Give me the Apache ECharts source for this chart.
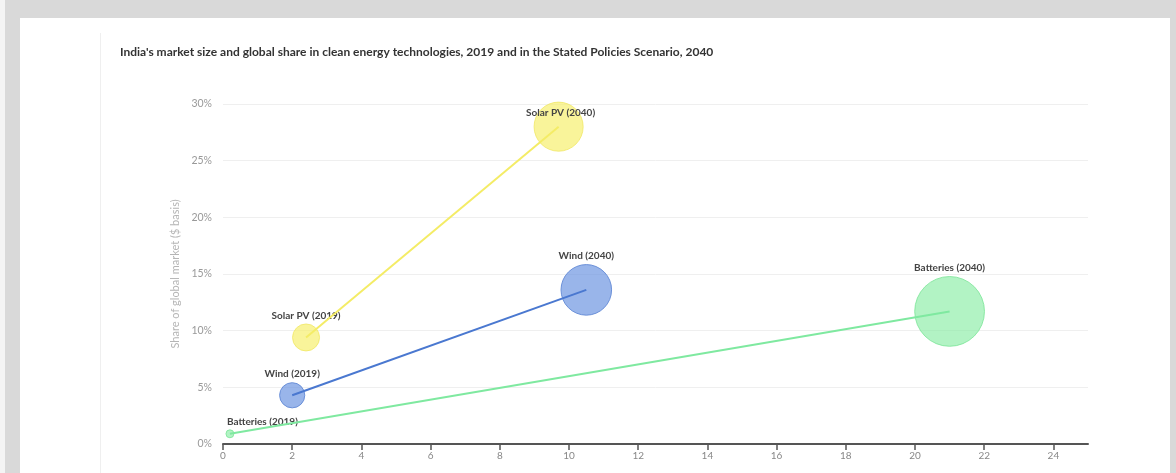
<!DOCTYPE html>
<html>
<head>
<meta charset="utf-8">
<script src="https://cdn.jsdelivr.net/npm/echarts@6/dist/echarts.min.js"></script>
<style>
  html, body { margin: 0; padding: 0; background: #d9d9d9; }
  #strip { position: absolute; left: 0; top: 0; width: 5px; height: 473px; background: #f4f4f4; }
  #panel { position: absolute; left: 20px; top: 18px; width: 1150px; height: 455px; background: #fff; }
  #rule { position: absolute; left: 100px; top: 33px; width: 1px; height: 440px; background: #efefef; }
  #chart { position: absolute; left: 0; top: 0; width: 1176px; height: 473px; }
</style>
</head>
<body>
<div id="strip"></div>
<div id="panel"></div>
<div id="rule"></div>
<div id="chart"></div>
<script>
// technologies, market size (x), share of global market % (y), bubble = market size
const techs = ['Solar PV', 'Wind', 'Batteries']
const years = ['2019', '2040']
const marketSize = {
  'Solar PV': [2.4, 9.7],
  'Wind': [2.0, 10.5],
  'Batteries': [0.2, 21.0]
}
const globalShare = {
  'Solar PV': [9.4, 28.0],
  'Wind': [4.3, 13.6],
  'Batteries': [0.9, 11.7]
}
const bubbleValue = {
  'Solar PV': [3.0, 9.9],
  'Wind': [2.6, 10.5],
  'Batteries': [0.26, 20]
}
const xTicks = [0, 2, 4, 6, 8, 10, 12, 14, 16, 18, 20, 22, 24]

const colors = {
  'Solar PV': { line: '#f4ec66', fill: 'rgba(246,238,100,0.65)', border: 'rgba(240,230,90,0.7)' },
  'Wind': { line: '#4a78d0', fill: 'rgba(110,150,225,0.7)', border: '#6a90d8' },
  'Batteries': { line: '#7fe9a0', fill: 'rgba(130,236,160,0.62)', border: 'rgba(120,228,150,0.8)' }
}

// label tweaks for crowded spots
const labelTweak = {
  'Solar PV (2040)': { position: 'inside', offset: [2, -14] },
  'Batteries (2019)': { position: 'top', align: 'left', offset: [-3, 0] }
}

const chart = echarts.init(document.getElementById('chart'))

const series = []
techs.forEach(function (t) {
  const pts = years.map(function (y, i) {
    return [marketSize[t][i], globalShare[t][i], bubbleValue[t][i], t + ' (' + y + ')']
  })
  series.push({
    type: 'scatter',
    z: 2,
    data: pts.map(function (p) {
      const d = { value: p, name: p[3] }
      if (labelTweak[p[3]]) d.label = labelTweak[p[3]]
      return d
    }),
    symbolSize: function (v) { return 15.6 * Math.sqrt(v[2]) },
    itemStyle: { color: colors[t].fill, borderColor: colors[t].border, borderWidth: 1, opacity: 1 },
    label: {
      show: true,
      position: 'top',
      distance: 3,
      formatter: function (p) { return p.data.name },
      color: '#444',
      fontFamily: 'Lato',
      fontWeight: 'bold',
      fontSize: 10
    },
    emphasis: { disabled: true }
  })
  series.push({
    type: 'line',
    z: 3,
    data: pts.map(function (p) { return [p[0], p[1]] }),
    symbol: 'none',
    lineStyle: { color: colors[t].line, width: 2 },
    emphasis: { disabled: true }
  })
})

const option = {
  animation: false,
  title: {
    text: "India's market size and global share in clean energy technologies, 2019 and in the Stated Policies Scenario, 2040",
    left: 115,
    top: 41,
    textStyle: { fontFamily: 'Lato', fontWeight: 'bold', fontSize: 12, color: '#333' }
  },
  grid: { left: 223, right: 88, top: 104, bottom: 29 },
  xAxis: {
    type: 'value',
    min: 0,
    max: 25,
    interval: 2,
    axisLine: { lineStyle: { color: '#555', width: 2 } },
    axisTick: { show: true, length: 6, lineStyle: { color: '#555', width: 1.5 }, customValues: xTicks },
    axisLabel: { color: '#888', fontFamily: 'Lato', fontSize: 10, margin: 7, customValues: xTicks },
    splitLine: { show: false }
  },
  yAxis: {
    type: 'value',
    min: 0,
    max: 30,
    interval: 5,
    name: 'Share of global market ($ basis)',
    nameLocation: 'middle',
    nameGap: 41,
    nameTextStyle: { color: '#b5b5b5', fontFamily: 'Lato', fontSize: 11 },
    axisLine: { show: false },
    axisTick: { show: false },
    axisLabel: { color: '#999', fontFamily: 'Lato', fontSize: 10.5, margin: 11, formatter: '{value}%' },
    splitLine: { lineStyle: { color: '#efefef', width: 1 } }
  },
  series: series
}

chart.setOption(option)
</script>
</body>
</html>
